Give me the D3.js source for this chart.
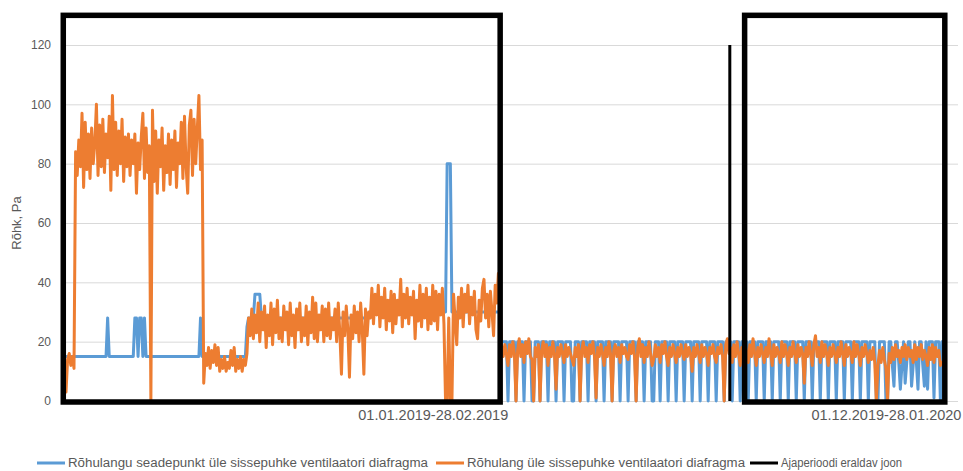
<!DOCTYPE html>
<html>
<head>
<meta charset="utf-8">
<script src="https://cdn.jsdelivr.net/npm/d3@7"></script>
<style>
  html, body { margin: 0; padding: 0; background: #fff; }
  svg { display: block; }
</style>
</head>
<body>
<svg id="chart" width="963" height="471"></svg>
<script>
// Pressure drop setpoint over the supply fan orifice, Pa (one value per logged sample)
const setpointJanFeb2019 = [
  15,15,15,15,15,15,15,15,15,15, 15,15,15,15,15,15,15,15,15,15, 15,15,15,15,15,15,
  28,
  15,15,15,15,15,15,15,15,15,15, 15,15,15,15,15,15,
  28,28,15,28,28,15,28,
  15,15,15,15,15,15,15,15,15,15, 15,15,15,15,15,15,15,15,15,15, 15,15,15,15,15,15,15,15,15,15, 15,15,15,15,
  28,
  15,15,15,15,15,15,15,15,15,15, 15,15,15,15,15,15,15,15,15,15, 15,15,15,15,15,15,15,15,
  25,28,28,28,28,
  36,36,36,36,
  28,28,28,28,28,28,28,28,28,28, 28,28,28,28,28,28,28,28,28,28, 28,28,28,28,28,28,28,28,28,28,
  28,28,28,28,28,28,28,28,28,28, 28,28,28,28,28,28,28,28,28,28, 28,28,28,28,28,28,28,28,28,28, 28,28,28,28,28,28,28,28,
  30,30,30,30,30,30,30,30,30,30, 30,30,30,30,30,30,30,30,30,30, 30,30,30,30,30,30,30,30,30,30,
  30,30,30,30,30,30,30,30,30,30, 30,30,30,30,30,30,30,30,
  80,80,80,
  30,30,30,30,30,30,30,30,30,30, 30,30,30,30,30,30,30,30,30,30, 30,30,30,30,30,30,30,30,30,30, 30
];
const setpointMidPeriod = [
  20,20,20,20,0, 20,20,20,20,0, 20,20,20,20,0, 20,20,20,20,0,
  0, 20,20,20,0,
  20,20,20,20,0, 20,20,20,20,0, 20,20,20,20,0, 20,20,20,20,0,
  0, 20,20,20,0,
  20,20,20,20,0, 20,20,20,20,0, 20,20,20,20,0, 20,20,20,20,0, 20,20,20,20,0,
  20,20,20,20,0, 20,20,20,20,0, 20,20,20,20,0, 20,20,20,20,0,
  0, 20,20,20,0,
  20,20,20,20,0, 20,20,20,20,0, 20,20,20,20,0, 20,20,20,20,0,
  20,20,20,20,0, 20,20,20,20,0, 20,20,20,20,0, 20,20,20,20,0,
  20,20,20
];
const setpointDecJan2020 = [
  20,
  0,20,20,20,20, 0,20,20,20,20, 0,20,20,20,20, 0,20,20,20,20, 0,20,20,20,20, 0,20,20,20,20,
  0,20,20,20,20, 0,20,20,20,20, 0,20,20,20,20, 0,20,20,20,20, 0,20,20,20,20, 0,20,20,20,20,
  0,20,20,20,20, 0,20,20,20,20, 0,20,20,20,20, 0,20,20,20,20, 0,20,20,20,20, 0,20,20,20,20,
  0,0,20,20,20,20,0,0,20,20,
  12,5,20,20,13,4,12,20,6,13,20,20,5,12,20,13,4,20,20,12,5,20,
  4,20,20,20,1,20,20,20,0,20
];

// Measured pressure drop over the supply fan orifice, Pa
const pressureJanFeb2019 = [
  3,14,16,12,15,11,
  84,76,88,79,97,72,94,78,90,75,
  92,80,87,100,76,93,79,95,77,90,
  82,96,71,103,78,94,76,91,80,95,
  74,89,79,90,76,88,80,90,70,87,
  78,89,97,75,92,77,86,0,98,74,
  91,70,88,79,92,71,86,77,90,73,
  88,78,91,72,87,80,94,75,96,79,
  70,93,98,76,95,80,92,103,78,88,
  6,
  16,12,18,11,17,13,19,12,18,10,
  14,11,15,10,13,11,17,12,18,10,
  14,11,15,10,14,12,16,
  28,
  22,31,21,29,23,33,20,30,24,32,
  18,29,22,33,19,31,23,34,21,28,
  20,32,24,30,19,33,22,29,18,31,
  24,33,20,28,22,32,19,30,23,35,
  21,33,20,29,24,32,20,31,22,33,
  21,28,24,31,20,33,23,9,30,22,
  32,24,8,29,21,32,23,30,20,33,
  24,9,31,22,30,
  28,38,26,36,29,39,25,35,28,38,
  24,34,27,37,23,36,26,34,29,41,
  25,36,28,38,26,35,29,37,21,34,
  27,39,25,36,28,38,24,35,26,39,
  27,37,24,36,29,38,26,
  0,0,28,0,0,
  36,27,19,35,28,38,25,36,30,39,
  26,35,29,37,24,21,34,27,38,41,
  28,36,25,37,30,22,39,33,43,34
];
const pressureMidPeriod = [
  18,15,19,16,12, 19,15,20,16,0, 17,21,15,19,13, 20,16,21,15,14,
  0, 18,15,19,0,
  17,20,15,19,12, 18,15,20,16,4, 18,15,19,16,13, 19,15,18,16,14,
  12, 18,15,19,0,
  17,20,15,18,13, 19,16,20,15,1, 18,15,19,16,12, 18,15,20,16,0, 17,19,15,18,13,
  19,16,18,15,14, 19,16,20,15,0, 18,21,15,19,13, 18,15,20,16,12,
  14, 19,15,18,13,
  19,16,20,15,12, 18,15,19,16,13, 18,15,19,16,14, 19,15,18,16,10,
  18,15,19,16,13, 19,15,18,16,12, 18,16,19,15,13, 18,16,19,15,0,
  19,21,16
];
const pressureDecJan2020 = [
  18,
  13,19,15,20,16, 12,18,15,20,16, 13,19,15,21,16, 12,18,15,19,16, 13,18,15,21,16, 12,19,15,18,16,
  13,20,15,19,16, 12,18,15,20,16, 13,19,15,18,16, 6,18,15,20,16, 12,19,22,15,18, 13,20,15,19,16,
  12,18,15,19,16, 13,18,15,20,16, 12,19,15,18,16, 13,20,15,19,16, 12,18,15,19,16, 13,17,14,18,13,
  0,12,17,13,18,14,11,0,16,13,
  18,14,19,15,17,13,18,15,19,14,18,15,17,13,19,14,18,15,19,14,17,15,
  12,18,14,19,13,18,15,17,12,13
];

// Boundary between the two reporting periods (sample position, value range in Pa)
const separatorAt = 414.5;
const separatorValues = [0, 120];

const yTicks = [0, 20, 40, 60, 80, 100, 120];
const periodLabels = ["01.01.2019-28.02.2019", "01.12.2019-28.01.2020"];
const periodLabelAt = [229, 512];
// Highlighted periods, in sample positions, framed up to 130 Pa
const periodFrames = [[-1.7, 271.1], [423.75, 548.75]];
const frameTop = 130;

const seriesNames = [
  "Rõhulangu seadepunkt üle sissepuhke ventilaatori diafragma",
  "Rõhulang üle sissepuhke ventilaatori diafragma",
  "Ajaperioodi eraldav joon"
];
const seriesColors = ["#5B9BD5", "#ED7D31", "#000000"];

// ---- layout ----
const plotLeft = 62, plotRight = 958, plotTop = 45, plotBottom = 401;
const font = "'Liberation Sans', Arial, sans-serif";
const textGrey = "#595959";

const setpoint = setpointJanFeb2019.concat(setpointMidPeriod, setpointDecJan2020);
const pressure = pressureJanFeb2019.concat(pressureMidPeriod, pressureDecJan2020);

const svg = d3.select("#chart");

const x = d3.scaleLinear().domain([0, setpoint.length - 1]).range([66, 942]);
const y = d3.scaleLinear().domain([0, 120]).range([plotBottom, plotTop]);

// gridlines and value labels
svg.append("g")
  .attr("transform", `translate(${plotLeft},0)`)
  .call(d3.axisLeft(y).tickValues(yTicks).tickSize(-(plotRight - plotLeft)).tickPadding(11))
  .call(g => g.select(".domain").remove())
  .call(g => g.selectAll(".tick line").attr("stroke", "#d9d9d9").attr("stroke-width", 1))
  .call(g => g.selectAll(".tick text")
    .attr("fill", textGrey).attr("font-family", font).attr("font-size", 12));

// axis title
svg.append("text")
  .attr("transform", "translate(21,223) rotate(-90)")
  .attr("text-anchor", "middle")
  .attr("fill", textGrey)
  .attr("font-family", font)
  .attr("font-size", 13)
  .text("Rõhk, Pa");

// period labels under the plot
svg.append("g")
  .attr("transform", `translate(0,${plotBottom})`)
  .call(d3.axisBottom(x).tickValues(periodLabelAt)
    .tickFormat((d, i) => periodLabels[i]).tickSize(0).tickPadding(9))
  .call(g => g.select(".domain").remove())
  .call(g => g.selectAll(".tick text")
    .attr("fill", textGrey).attr("font-family", font).attr("font-size", 14.5));

// series lines
const line = d3.line().x((d, i) => x(i)).y(d => y(d));
[setpoint, pressure].forEach((values, k) => {
  svg.append("path")
    .datum(values)
    .attr("d", line)
    .attr("fill", "none")
    .attr("stroke", seriesColors[k])
    .attr("stroke-width", 3)
    .attr("stroke-linejoin", "round")
    .attr("stroke-linecap", "round");
});

// period separator
svg.append("path")
  .datum(separatorValues)
  .attr("d", d3.line().x(() => x(separatorAt)).y(d => y(d)))
  .attr("fill", "none")
  .attr("stroke", seriesColors[2])
  .attr("stroke-width", 3);

// frames around the highlighted periods
svg.append("g").selectAll("rect")
  .data(periodFrames)
  .join("rect")
  .attr("x", d => x(d[0]))
  .attr("y", y(frameTop))
  .attr("width", d => x(d[1]) - x(d[0]))
  .attr("height", y(0) + 1 - y(frameTop))
  .attr("fill", "none")
  .attr("stroke", "#000")
  .attr("stroke-width", 5.5);

// legend
const legendY = 463;
const legendStarts = [37, 436, 750];
const legendTextWidths = [360, 278, 121];
const legend = svg.append("g");
seriesNames.forEach((name, k) => {
  const x0 = legendStarts[k];
  legend.append("line")
    .attr("x1", x0).attr("x2", x0 + 28)
    .attr("y1", legendY).attr("y2", legendY)
    .attr("stroke", seriesColors[k]).attr("stroke-width", 3);
  legend.append("text")
    .attr("x", x0 + 31).attr("y", legendY)
    .attr("dy", "0.35em")
    .attr("fill", textGrey)
    .attr("font-family", font)
    .attr("font-size", 12)
    .attr("textLength", legendTextWidths[k])
    .attr("lengthAdjust", "spacingAndGlyphs")
    .text(name);
});
</script>
</body>
</html>
